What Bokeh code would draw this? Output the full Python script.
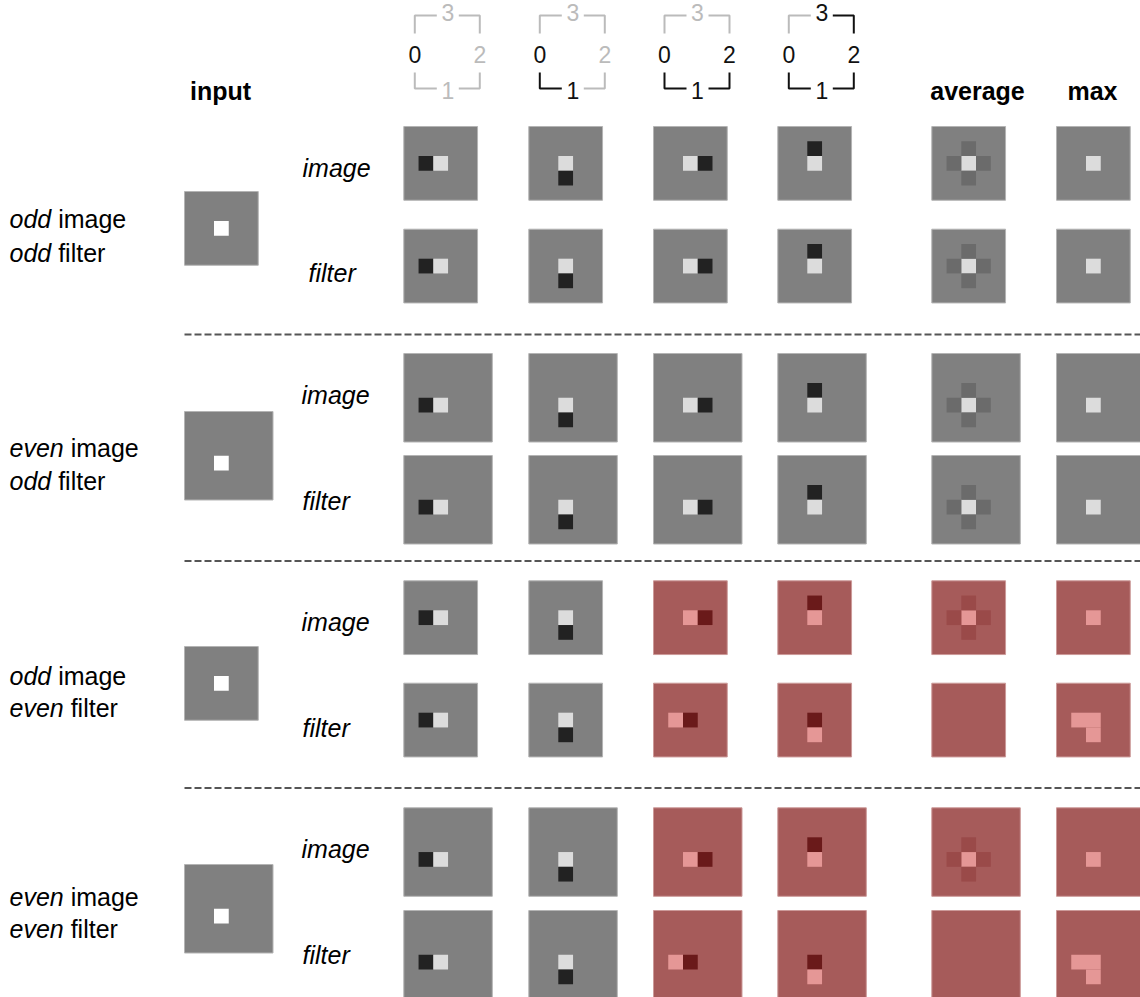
from bokeh.plotting import figure
from bokeh.models import Range1d, ColumnDataSource
from bokeh.embed import file_html
from bokeh.resources import INLINE
from bokeh.core.properties import value

# ---------------- data ----------------
header_numbers = ["0", "1", "2", "3"]
header_steps = [0, 1, 2, 3]              # last active side for each rotation column
summary_labels = ["average", "max"]
row_names = ["image", "filter"]
group_image_word = ["odd", "even", "odd", "even"]
group_filter_word = ["odd", "odd", "even", "even"]
grid_size = [5, 6, 5, 6]                 # pixels per side of the image
input_pixel = [(2, 2), (2, 3), (2, 2), (2, 3)]   # (col, row) of the white input pixel

# lit pixels relative to the input pixel: (dx, dy, level)
rot_cells = [
    [(-1, 0, "dark"), (0, 0, "light")],
    [(0, 0, "light"), (0, 1, "dark")],
    [(0, 0, "light"), (1, 0, "dark")],
    [(0, -1, "dark"), (0, 0, "light")],
]
avg_cells = [(0, 0, "light"), (-1, 0, "mid"), (1, 0, "mid"), (0, -1, "mid"), (0, 1, "mid")]
max_cells = [(0, 0, "light")]
rot_cells_even_filter = [
    [(-1, 0, "dark"), (0, 0, "light")],
    [(0, 0, "light"), (0, 1, "dark")],
    [(-1, 0, "light"), (0, 0, "dark")],
    [(0, 0, "dark"), (0, 1, "light")],
]
avg_cells_even_filter = []
max_cells_even_filter = [(-1, 0, "light"), (0, 0, "light"), (0, 1, "light")]
# 1 = result differs from the expected one (shown in red)
mismatch = [
    [0, 0, 0, 0, 0, 0],
    [0, 0, 0, 0, 0, 0],
    [0, 0, 1, 1, 1, 1],
    [0, 0, 1, 1, 1, 1],
]

# ---------------- layout / style ----------------
GRAY = {"bg": "#808080", "light": "#dcdcdc", "dark": "#222222", "mid": "#6b6b6b",
        "white": "#ffffff", "edge": "#b4b4b4"}
RED = {"bg": "#a65b5a", "light": "#e59796", "dark": "#6a1a1a", "mid": "#9a4a49",
       "edge": "#cc9a99"}
CELL = 14.75
col_left = [403.3, 528.3, 653.0, 777.3, 931.3, 1056.0]
image_top = [126.0, 353.0, 580.3, 807.3]
filter_top = [228.7, 455.0, 682.7, 910.0]
input_left = 184.0
input_top = [191.0, 411.0, 646.0, 864.0]
sep_y = [334.0, 560.5, 787.5]
FONT = "Liberation Sans"
FS = 25

p = figure(width=1140, height=997, x_range=Range1d(0, 1140), y_range=Range1d(997, 0),
           output_backend="svg", toolbar_location=None, min_border=0,
           x_axis_type=None, y_axis_type=None)
p.grid.visible = False
p.outline_line_color = None
p.background_fill_color = "white"

bg = dict(left=[], right=[], top=[], bottom=[], fill=[], edge=[])
px = dict(left=[], right=[], top=[], bottom=[], fill=[])


def panel(x0, y0, n, pal, cells, center):
    bg["left"].append(x0); bg["right"].append(x0 + n * CELL)
    bg["top"].append(y0); bg["bottom"].append(y0 + n * CELL)
    bg["fill"].append(pal["bg"]); bg["edge"].append(pal["edge"])
    cx, cy = center
    for dx, dy, lvl in cells:
        c, r = cx + dx, cy + dy
        px["left"].append(x0 + c * CELL); px["right"].append(x0 + (c + 1) * CELL)
        px["top"].append(y0 + r * CELL); px["bottom"].append(y0 + (r + 1) * CELL)
        px["fill"].append(pal[lvl])


for g in range(4):
    n = grid_size[g]
    ctr = input_pixel[g]
    panel(input_left, input_top[g], n, GRAY, [(0, 0, "white")], ctr)
    even_filter = group_filter_word[g] == "even"
    img_sets = rot_cells + [avg_cells, max_cells]
    if even_filter:
        flt_sets = rot_cells_even_filter + [avg_cells_even_filter, max_cells_even_filter]
    else:
        flt_sets = rot_cells + [avg_cells, max_cells]
    for k in range(6):
        pal = RED if mismatch[g][k] else GRAY
        panel(col_left[k], image_top[g], n, pal, img_sets[k], ctr)
        panel(col_left[k], filter_top[g], n, pal, flt_sets[k], ctr)

p.quad(left="left", right="right", top="top", bottom="bottom", fill_color="fill",
       line_color="edge", line_width=1, source=ColumnDataSource(bg))
p.quad(left="left", right="right", top="top", bottom="bottom", fill_color="fill",
       line_color=None, source=ColumnDataSource(px))

# separators
for y in sep_y:
    p.line([input_left, 1140], [y, y], line_color="#555555", line_width=2, line_dash="7 3")

# header icons
BLACK, LIGHT = "#111111", "#bbbbbb"
seg_x, seg_y, seg_c = [], [], []
nums = dict(x=[], y=[], text=[], color=[])
for k, step in enumerate(header_steps):
    L = col_left[k]
    xl, xr, xc = L + 11, L + 76, L + 44
    segs = [
        ([xl, xl, xc - 11], [72, 88, 88], step >= 1),        # 0 -> 1
        ([xc + 11, xr, xr], [88, 88, 72], step >= 2),        # 1 -> 2
        ([xr, xr, xc + 11], [33, 15, 15], step >= 3),        # 2 -> 3
        ([xc - 11, xl, xl], [15, 15, 33], step >= 4),        # 3 -> 0
    ]
    for sx, sy, on in segs:
        seg_x.append(sx); seg_y.append(sy); seg_c.append(BLACK if on else LIGHT)
    pos = [(xl, 54), (xc, 90), (xr, 54), (xc, 12)]
    for i, t in enumerate(header_numbers):
        nums["x"].append(pos[i][0]); nums["y"].append(pos[i][1]); nums["text"].append(t)
        nums["color"].append(BLACK if i <= step else LIGHT)
p.multi_line(xs=seg_x, ys=seg_y, line_color=seg_c, line_width=2)
p.text(x="x", y="y", text="text", text_color="color", source=ColumnDataSource(nums),
       text_font=value(FONT), text_font_size=value("23px"), text_align="center",
       text_baseline="alphabetic")

# column headers
p.text(x=[220, 977, 1092], y=[90, 90, 90], text=["input"] + summary_labels,
       text_font=value(FONT), text_font_size=value(f"{FS}px"), text_font_style="bold",
       text_align="center", text_baseline="alphabetic", text_color="#000000")

# row labels (image / filter)
img_lbl_x = [302, 301, 301, 301]
flt_lbl_x = [308, 302, 302, 302]
img_lbl_y = [167, 394, 621, 848]
flt_lbl_y = [272, 500, 727, 954]
p.text(x=img_lbl_x + flt_lbl_x, y=img_lbl_y + flt_lbl_y,
       text=[row_names[0]] * 4 + [row_names[1]] * 4,
       text_font=value(FONT), text_font_size=value(f"{FS}px"), text_font_style="italic",
       text_align="left", text_baseline="alphabetic", text_color="#000000")

# group labels
W = {"o": 0.556, "d": 0.556, "e": 0.556, "v": 0.5, "n": 0.556, " ": 0.278}


def width(s):
    return sum(W[ch] for ch in s) * FS


lab1_y = [218, 447, 675, 896]
lab2_y = [252, 480, 707, 928]
it = dict(x=[], y=[], text=[])
nm = dict(x=[], y=[], text=[])
for g in range(4):
    for word, rest, y in [(group_image_word[g], "image", lab1_y[g]),
                          (group_filter_word[g], "filter", lab2_y[g])]:
        it["x"].append(9); it["y"].append(y); it["text"].append(word)
        nm["x"].append(9 + width(word + " ")); nm["y"].append(y); nm["text"].append(rest)
p.text(x="x", y="y", text="text", source=ColumnDataSource(it), text_font=value(FONT),
       text_font_size=value(f"{FS}px"), text_font_style="italic", text_baseline="alphabetic",
       text_color="#000000")
p.text(x="x", y="y", text="text", source=ColumnDataSource(nm), text_font=value(FONT),
       text_font_size=value(f"{FS}px"), text_baseline="alphabetic", text_color="#000000")

open("out.html", "w").write(file_html(p, INLINE))
